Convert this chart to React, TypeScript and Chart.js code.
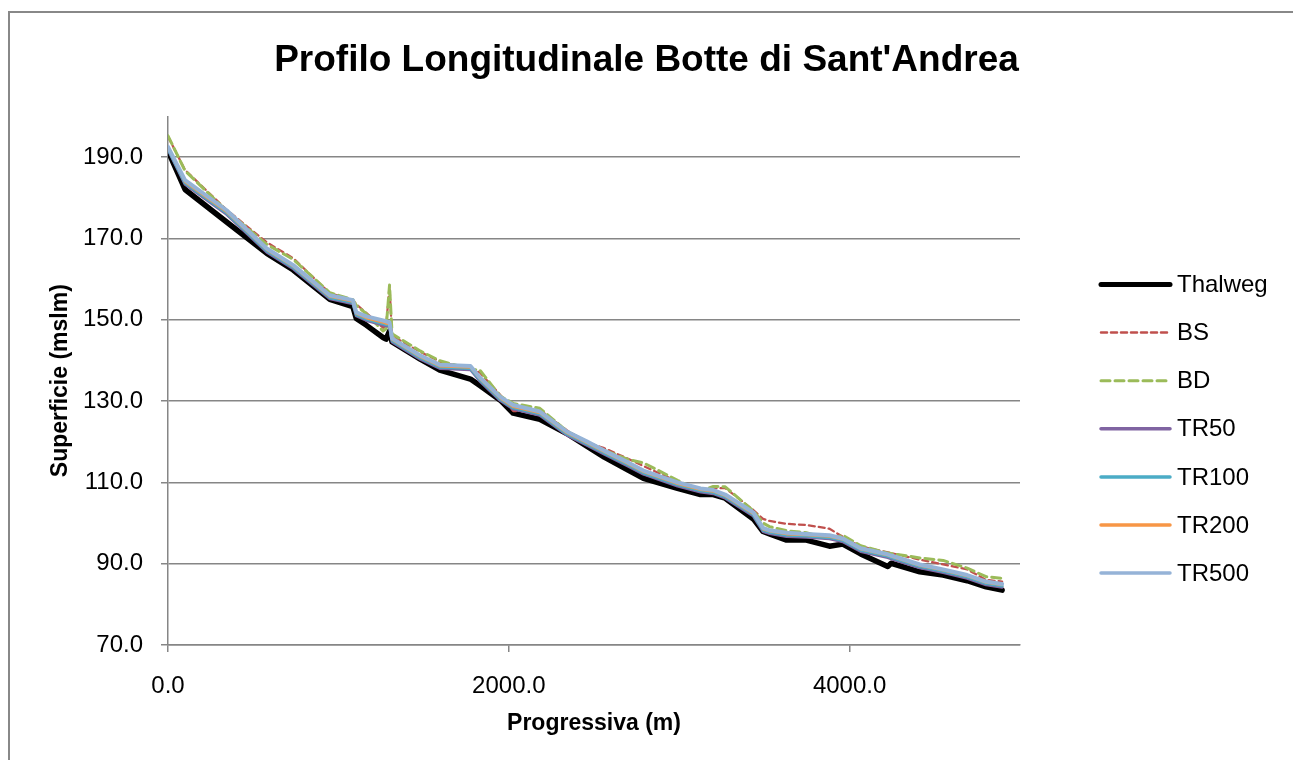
import React, { useEffect, useRef } from "react";
import { Chart, registerables } from "chart.js";

Chart.register(...registerables);

// Cross-section stations (progressiva, m)
const stations = [
  0, 100, 344, 580, 735, 950, 1085, 1105, 1165, 1262, 1280, 1300, 1315, 1480,
  1595, 1775, 1830, 1950, 2026, 2182, 2340, 2460, 2560, 2700, 2790, 2990, 3125,
  3200, 3270, 3435, 3492, 3530, 3630, 3746, 3882, 3960, 4065, 4224, 4244, 4412,
  4549, 4690, 4801, 4895,
];

const thalweg = [
  191.5, 182.0, 174.0, 166.3, 162.2, 155.0, 153.2, 150.3, 148.6, 145.6, 145.2,
  147.2, 144.5, 140.3, 137.6, 135.4, 133.8, 130.2, 127.0, 125.5, 122.0, 118.8,
  116.2, 113.0, 111.0, 108.5, 107.0, 107.0, 106.1, 101.0, 97.9, 97.3, 95.8,
  95.8, 94.3, 94.8, 92.4, 89.3, 90.1, 88.0, 87.2, 85.8, 84.3, 83.5,
];

const bs = [
  195.0, 186.8, 177.0, 169.0, 165.1, 156.5, 154.8, 153.8, 151.6, 148.0, 148.5,
  158.2, 146.0, 142.1, 139.7, 137.9, 137.0, 131.5, 127.5, 127.8, 122.8, 119.8,
  118.4, 115.8, 114.0, 110.2, 108.3, 108.5, 108.6, 103.2, 101.0, 100.5, 99.8,
  99.5, 98.6, 96.6, 94.2, 92.8, 92.6, 91.0, 89.8, 88.6, 86.0, 85.6,
];

const bd = [
  195.2, 186.6, 176.8, 168.5, 164.8, 156.6, 154.9, 153.5, 151.4, 147.2, 147.8,
  158.5, 146.5, 142.3, 139.9, 137.8, 137.6, 131.2, 129.4, 128.2, 122.6, 119.9,
  117.9, 115.6, 114.8, 110.5, 107.8, 109.0, 108.9, 103.0, 100.0, 99.1, 98.1,
  97.6, 96.0, 97.0, 94.4, 92.6, 92.5, 91.4, 90.8, 88.9, 86.8, 86.4,
];

const tr50 = [
  191.8, 183.3, 175.9, 166.6, 162.5, 155.1, 153.9, 150.9, 149.8, 148.7, 148.5,
  148.3, 144.5, 140.3, 138.0, 137.7, 134.9, 130.1, 128.0, 126.5, 121.6, 119.1,
  116.9, 114.0, 112.0, 109.1, 107.6, 107.2, 106.1, 101.7, 97.9, 97.4, 96.7,
  96.5, 96.1, 95.4, 93.0, 91.5, 91.2, 89.0, 87.8, 86.4, 84.8, 84.2,
];

const tr100 = [
  192.0, 183.6, 176.2, 166.9, 162.8, 155.4, 154.2, 151.2, 150.1, 149.0, 148.8,
  148.6, 144.8, 140.6, 138.3, 138.0, 135.2, 130.4, 128.3, 126.8, 121.9, 119.4,
  117.2, 114.3, 112.3, 109.4, 107.9, 107.5, 106.4, 102.0, 98.2, 97.7, 97.0,
  96.8, 96.4, 95.7, 93.3, 91.8, 91.5, 89.3, 88.1, 86.7, 85.1, 84.5,
];

const tr200 = [
  192.2, 183.8, 176.4, 167.1, 163.0, 155.6, 154.4, 151.4, 150.3, 149.2, 149.0,
  148.8, 145.0, 140.8, 138.5, 138.2, 135.4, 130.6, 128.5, 127.0, 122.1, 119.6,
  117.4, 114.5, 112.5, 109.6, 108.1, 107.7, 106.6, 102.2, 98.4, 97.9, 97.2,
  97.0, 96.6, 95.9, 93.5, 92.0, 91.7, 89.5, 88.3, 86.9, 85.3, 84.7,
];

const tr500 = [
  192.5, 184.3, 176.9, 167.5, 163.4, 156.0, 154.8, 151.8, 150.8, 149.8, 149.6,
  149.3, 145.4, 141.2, 138.9, 138.6, 135.8, 131.0, 129.0, 127.4, 122.5, 120.0,
  117.8, 114.9, 112.9, 110.0, 108.5, 108.1, 107.0, 102.6, 98.8, 98.2, 97.6,
  97.3, 97.0, 96.2, 93.8, 92.3, 92.0, 89.8, 88.6, 87.2, 85.6, 85.0,
];

const seriesNames = ["Thalweg", "BS", "BD", "TR50", "TR100", "TR200", "TR500"];
const xTicks = [0, 2000, 4000];
const yTicks = [70, 90, 110, 130, 150, 170, 190];

const FONT = "'Liberation Sans', Arial, sans-serif";
const GRID = "#868686";

export default function App() {
  const ref = useRef<HTMLCanvasElement>(null);

  useEffect(() => {
    if (!ref.current) return;
    const toPts = (ys: number[]) => stations.map((x, i) => ({ x, y: ys[i] }));
    const values = [thalweg, bs, bd, tr50, tr100, tr200, tr500];
    const colors = ["#000000", "#C0504D", "#9BBB59", "#8064A2", "#4BACC6", "#F79646", "#95B3D7"];
    const widths = [5.5, 2.25, 3, 3, 3, 2, 4];
    const dashes: number[][] = [[], [6, 4], [9, 5], [], [], [], []];
    const legendWidths = [5, 2.5, 3, 3.5, 3.5, 3.5, 3.5];

    const datasets = seriesNames.map((name, i) => ({
      label: name,
      data: toPts(values[i]),
      borderColor: colors[i],
      backgroundColor: colors[i],
      borderWidth: widths[i],
      borderDash: dashes[i],
      borderCapStyle: "round" as const,
      borderJoinStyle: "round" as const,
      pointRadius: 0,
      tension: 0,
      fill: false,
      showLine: true,
      order: seriesNames.length - i,
    }));

    const customLegend = {
      id: "customLegend",
      afterDraw(chart: any) {
        const ctx = chart.ctx as CanvasRenderingContext2D;
        ctx.save();
        chart.data.datasets.forEach((ds: any, i: number) => {
          const y = 284.5 + i * 48.1;
          ctx.beginPath();
          ctx.strokeStyle = ds.borderColor;
          ctx.lineWidth = legendWidths[i];
          ctx.lineCap = "round";
          ctx.setLineDash(dashes[i]);
          ctx.moveTo(1101, y);
          ctx.lineTo(1170, y);
          ctx.stroke();
          ctx.setLineDash([]);
          ctx.fillStyle = "#000";
          ctx.font = `24px ${FONT}`;
          ctx.textBaseline = "middle";
          ctx.textAlign = "left";
          ctx.fillText(ds.label, 1177, y + 1);
        });
        ctx.restore();
      },
    };

    const chart = new Chart(ref.current, {
      type: "line",
      data: { datasets },
      plugins: [customLegend],
      options: {
        animation: false,
        responsive: false,
        maintainAspectRatio: false,
        devicePixelRatio: 1,
        layout: { padding: 0 },
        plugins: {
          legend: { display: false },
          tooltip: { enabled: false },
          title: {
            display: true,
            text: "Profilo Longitudinale Botte di Sant'Andrea",
            color: "#000",
            font: { family: FONT, size: 37, weight: "bold" },
            padding: { top: 39, bottom: 32.9 },
          },
        },
        scales: {
          x: {
            type: "linear",
            min: 0,
            max: 5000,
            afterBuildTicks: (s: any) => {
              s.ticks = xTicks.map((v) => ({ value: v }));
            },
            afterFit: (s: any) => {
              s.height = 115;
            },
            grid: {
              drawOnChartArea: false,
              drawTicks: true,
              tickLength: 7,
              color: GRID,
              lineWidth: 1.5,
            },
            border: { display: true, color: GRID, width: 1.5 },
            ticks: {
              autoSkip: false,
              maxRotation: 0,
              padding: 20,
              color: "#000",
              font: { family: FONT, size: 24 },
              callback: (v: any) => Number(v).toFixed(1),
            },
            title: {
              display: true,
              text: "Progressiva (m)",
              color: "#000",
              font: { family: FONT, size: 23, weight: "bold" },
              padding: { top: 0, bottom: 23 },
            },
          },
          y: {
            type: "linear",
            position: "left",
            min: 70,
            max: 200,
            afterBuildTicks: (s: any) => {
              s.ticks = yTicks.map((v) => ({ value: v }));
            },
            afterFit: (s: any) => {
              s.width = 168;
            },
            grid: {
              drawTicks: true,
              tickLength: 7,
              color: GRID,
              lineWidth: 1.5,
            },
            border: { display: true, color: GRID, width: 1.5 },
            ticks: {
              padding: 18,
              color: "#000",
              font: { family: FONT, size: 24 },
              callback: (v: any) => Number(v).toFixed(1),
            },
            title: {
              display: true,
              text: "Superficie (mslm)",
              color: "#000",
              font: { family: FONT, size: 23, weight: "bold" },
              padding: { top: 47, bottom: 0 },
            },
          },
          yR: {
            type: "linear",
            position: "right",
            display: true,
            afterFit: (s: any) => {
              s.width = 273;
            },
            grid: { display: false },
            border: { display: false },
            ticks: { display: false },
            title: { display: false },
          },
        },
      } as any,
    });

    return () => chart.destroy();
  }, []);

  return (
    <>
      <div
        style={{
          position: "fixed",
          left: 8,
          top: 11,
          width: 1400,
          height: 900,
          border: "2px solid #888",
          boxSizing: "border-box",
        }}
      />
      <canvas
        ref={ref}
        width={1293}
        height={760}
        style={{ position: "fixed", left: 0, top: 0, width: 1293, height: 760 }}
      />
    </>
  );
}
